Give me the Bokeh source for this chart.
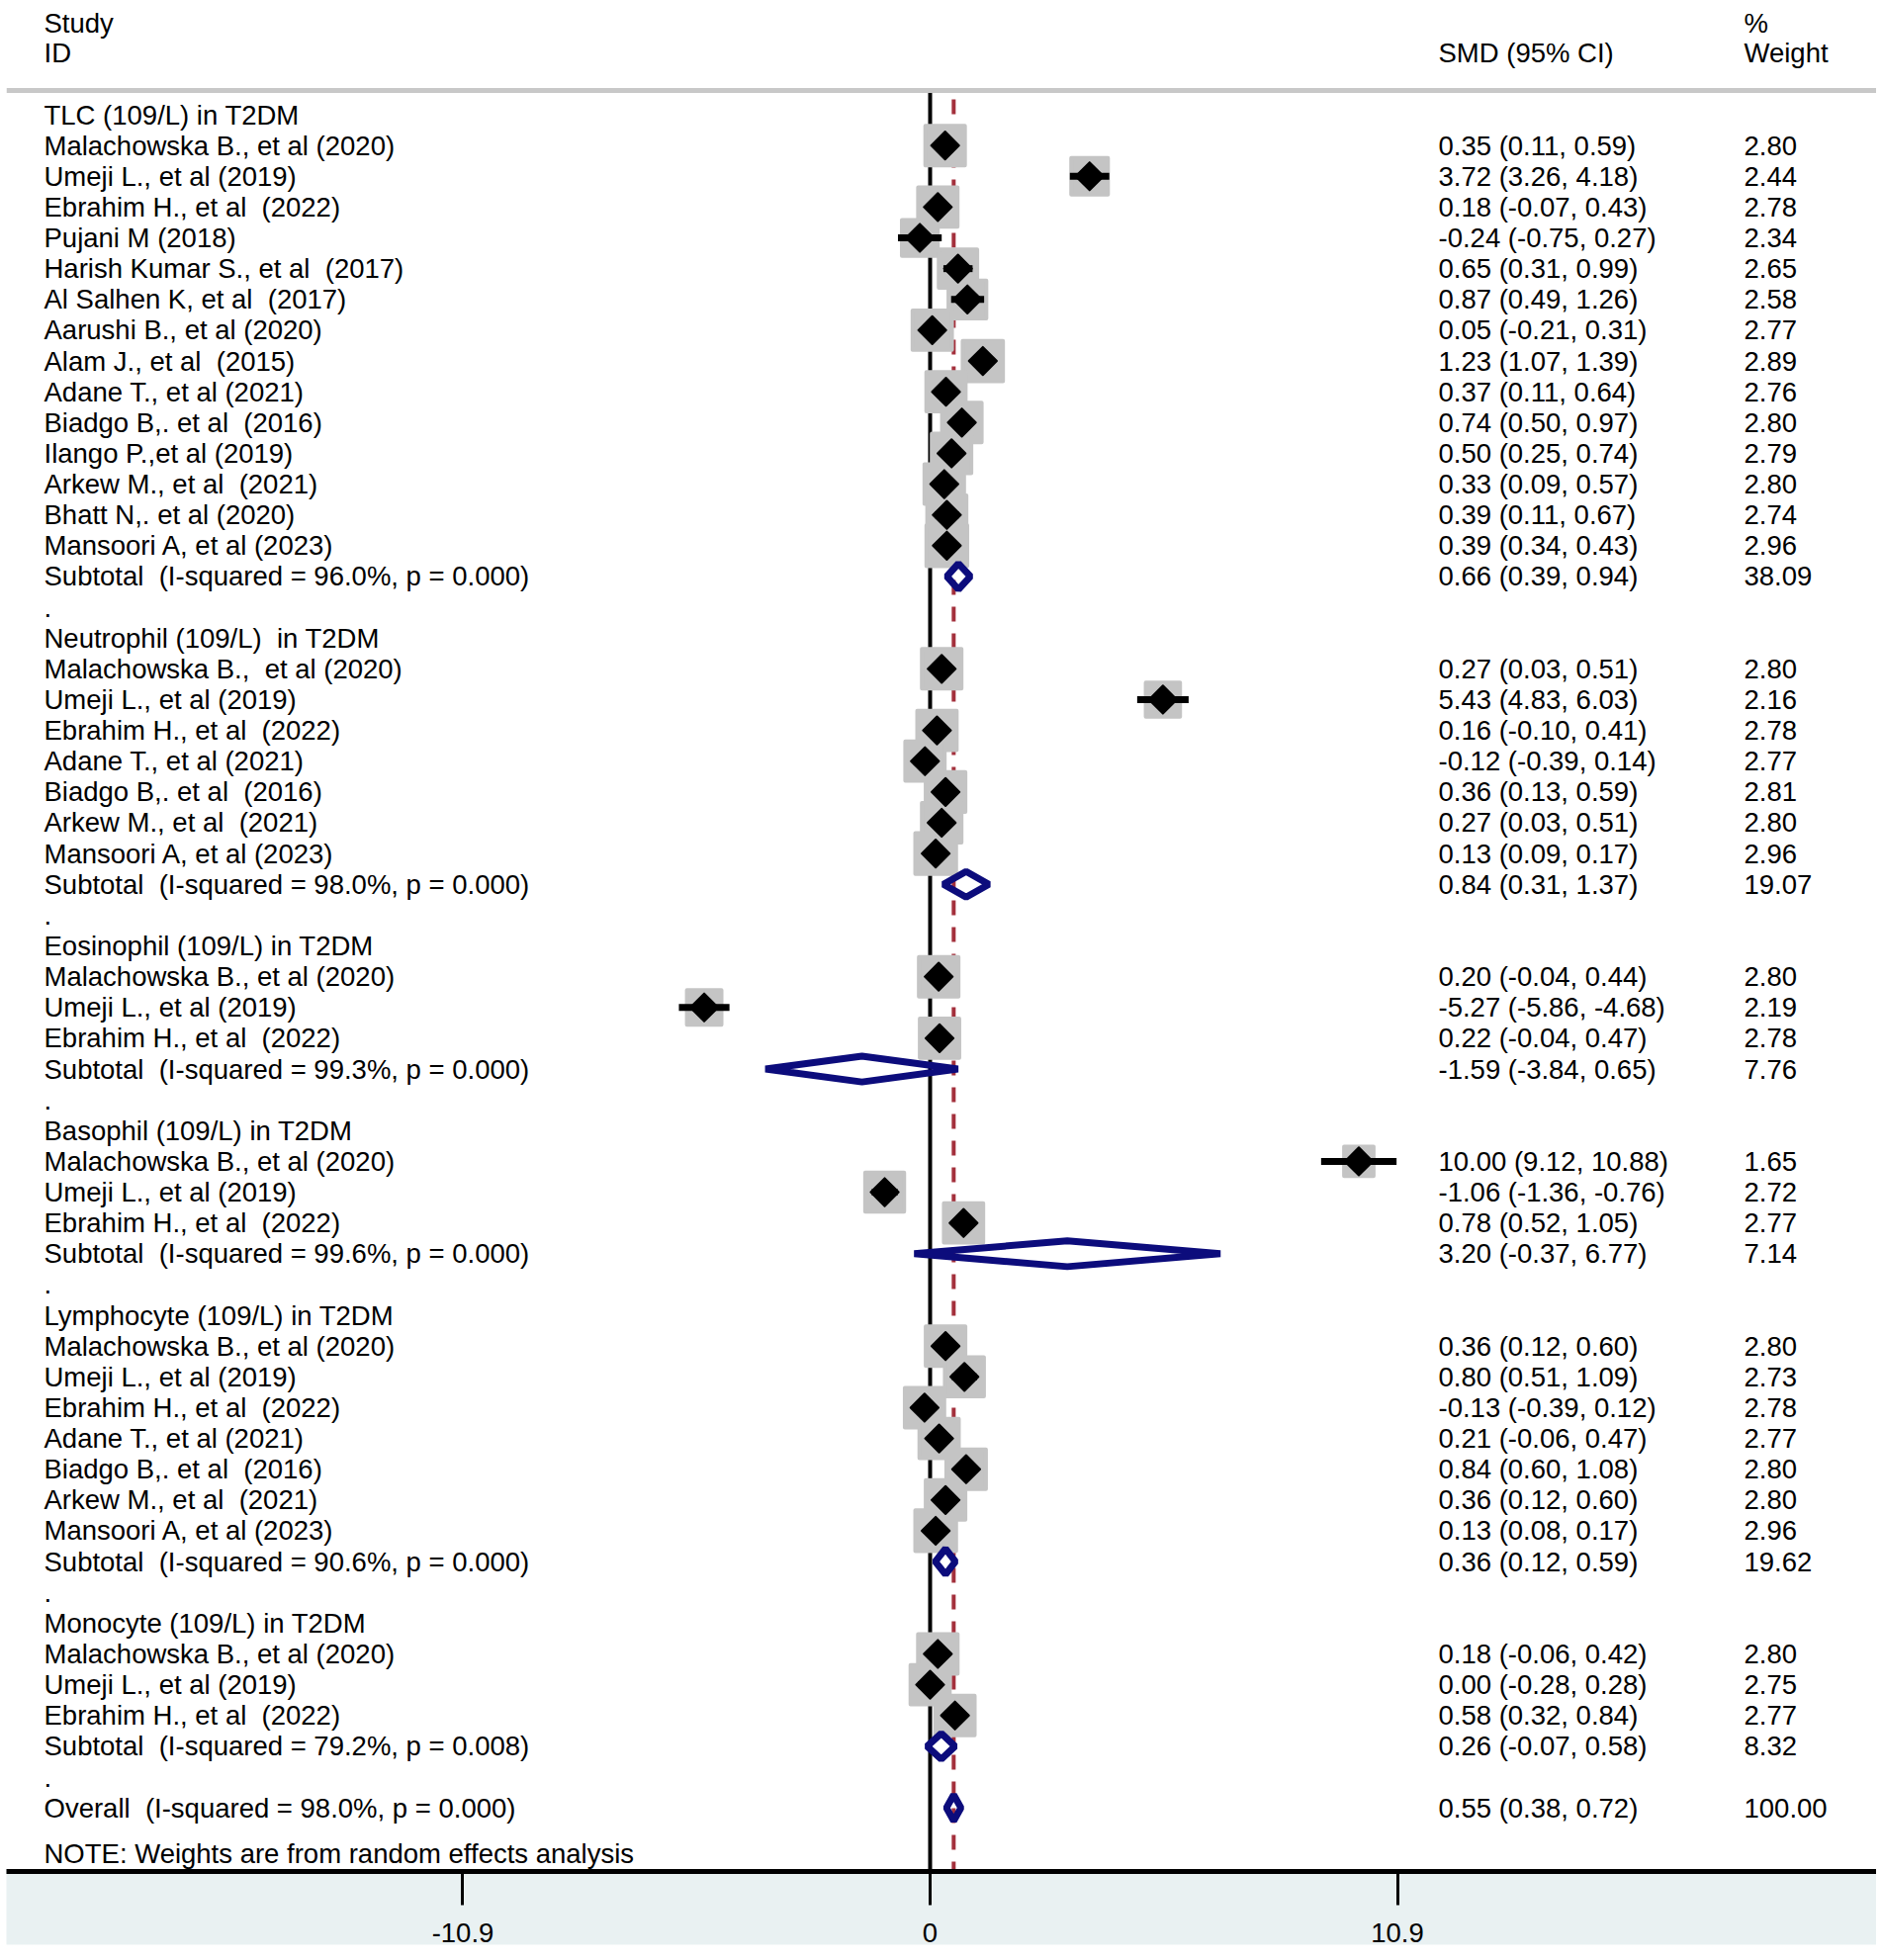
import math
from bokeh.plotting import figure
from bokeh.models import ColumnDataSource, Range1d, FixedTicker, Span, LinearAxis
from bokeh.core.properties import value
from bokeh.embed import file_html
from bokeh.resources import INLINE

# ---------------- data ----------------
group_titles = [
    "TLC (109/L) in T2DM",
    "Neutrophil (109/L)  in T2DM",
    "Eosinophil (109/L) in T2DM",
    "Basophil (109/L) in T2DM",
    "Lymphocyte (109/L) in T2DM",
    "Monocyte (109/L) in T2DM",
]

tlc_studies = ["Malachowska B., et al (2020)", "Umeji L., et al (2019)", "Ebrahim H., et al  (2022)",
               "Pujani M (2018)", "Harish Kumar S., et al  (2017)", "Al Salhen K, et al  (2017)",
               "Aarushi B., et al (2020)", "Alam J., et al  (2015)", "Adane T., et al (2021)",
               "Biadgo B,. et al  (2016)", "Ilango P.,et al (2019)", "Arkew M., et al  (2021)",
               "Bhatt N,. et al (2020)", "Mansoori A, et al (2023)"]
tlc_smd = [0.35, 3.72, 0.18, -0.24, 0.65, 0.87, 0.05, 1.23, 0.37, 0.74, 0.50, 0.33, 0.39, 0.39]
tlc_lo = [0.11, 3.26, -0.07, -0.75, 0.31, 0.49, -0.21, 1.07, 0.11, 0.50, 0.25, 0.09, 0.11, 0.34]
tlc_hi = [0.59, 4.18, 0.43, 0.27, 0.99, 1.26, 0.31, 1.39, 0.64, 0.97, 0.74, 0.57, 0.67, 0.43]
tlc_w = [2.80, 2.44, 2.78, 2.34, 2.65, 2.58, 2.77, 2.89, 2.76, 2.80, 2.79, 2.80, 2.74, 2.96]

neu_studies = ["Malachowska B.,  et al (2020)", "Umeji L., et al (2019)", "Ebrahim H., et al  (2022)",
               "Adane T., et al (2021)", "Biadgo B,. et al  (2016)", "Arkew M., et al  (2021)",
               "Mansoori A, et al (2023)"]
neu_smd = [0.27, 5.43, 0.16, -0.12, 0.36, 0.27, 0.13]
neu_lo = [0.03, 4.83, -0.10, -0.39, 0.13, 0.03, 0.09]
neu_hi = [0.51, 6.03, 0.41, 0.14, 0.59, 0.51, 0.17]
neu_w = [2.80, 2.16, 2.78, 2.77, 2.81, 2.80, 2.96]

eos_studies = ["Malachowska B., et al (2020)", "Umeji L., et al (2019)", "Ebrahim H., et al  (2022)"]
eos_smd = [0.20, -5.27, 0.22]
eos_lo = [-0.04, -5.86, -0.04]
eos_hi = [0.44, -4.68, 0.47]
eos_w = [2.80, 2.19, 2.78]

bas_studies = ["Malachowska B., et al (2020)", "Umeji L., et al (2019)", "Ebrahim H., et al  (2022)"]
bas_smd = [10.00, -1.06, 0.78]
bas_lo = [9.12, -1.36, 0.52]
bas_hi = [10.88, -0.76, 1.05]
bas_w = [1.65, 2.72, 2.77]

lym_studies = ["Malachowska B., et al (2020)", "Umeji L., et al (2019)", "Ebrahim H., et al  (2022)",
               "Adane T., et al (2021)", "Biadgo B,. et al  (2016)", "Arkew M., et al  (2021)",
               "Mansoori A, et al (2023)"]
lym_smd = [0.36, 0.80, -0.13, 0.21, 0.84, 0.36, 0.13]
lym_lo = [0.12, 0.51, -0.39, -0.06, 0.60, 0.12, 0.08]
lym_hi = [0.60, 1.09, 0.12, 0.47, 1.08, 0.60, 0.17]
lym_w = [2.80, 2.73, 2.78, 2.77, 2.80, 2.80, 2.96]

mon_studies = ["Malachowska B., et al (2020)", "Umeji L., et al (2019)", "Ebrahim H., et al  (2022)"]
mon_smd = [0.18, 0.00, 0.58]
mon_lo = [-0.06, -0.28, 0.32]
mon_hi = [0.42, 0.28, 0.84]
mon_w = [2.80, 2.75, 2.77]

sub_smd = [0.66, 0.84, -1.59, 3.20, 0.36, 0.26]
sub_lo = [0.39, 0.31, -3.84, -0.37, 0.12, -0.07]
sub_hi = [0.94, 1.37, 0.65, 6.77, 0.59, 0.58]
sub_w = [38.09, 19.07, 7.76, 7.14, 19.62, 8.32]
sub_i2 = [96.0, 98.0, 99.3, 99.6, 90.6, 79.2]
sub_p = [0.000, 0.000, 0.000, 0.000, 0.000, 0.008]

overall_smd, overall_lo, overall_hi, overall_w = 0.55, 0.38, 0.72, 100.00
overall_i2, overall_p = 98.0, 0.000

tick_values = [-10.9, 0, 10.9]
tick_labels = ["-10.9", "0", "10.9"]

groups = [
    (tlc_studies, tlc_smd, tlc_lo, tlc_hi, tlc_w),
    (neu_studies, neu_smd, neu_lo, neu_hi, neu_w),
    (eos_studies, eos_smd, eos_lo, eos_hi, eos_w),
    (bas_studies, bas_smd, bas_lo, bas_hi, bas_w),
    (lym_studies, lym_smd, lym_lo, lym_hi, lym_w),
    (mon_studies, mon_smd, mon_lo, mon_hi, mon_w),
]

# ---------------- layout constants (page pixels) ----------------
PX0 = 940.0     # page x of SMD = 0
PXU = 43.35     # page px per SMD unit
ROW0 = 115.5    # page y of first row
ROWH = 31.13    # row height
FIG_W, FIG_H = 1897, 1977
LEFT = 6        # left white border
AXIS_Y = 1892   # page y of the axis line
FONT = "Liberation Sans"
FS = "27.5px"
SHADE = "#e9f1f2"


def xd(px):
    return (px - PX0) / PXU


def yd(py):
    return (py - ROW0) / ROWH


def keep_spaces(s):
    return s.replace("  ", " \u00a0")


X_LABEL = xd(44)
X_SMD = xd(1454)
X_W = xd(1763)

# ---------------- build rows ----------------
txt_x, txt_y, txt = [], [], []
st_y, st_smd, st_lo, st_hi, st_size = [], [], [], [], []
dia_xs, dia_ys = [], []
HALF_H = 0.42


def add_text(x, y, s):
    txt_x.append(x)
    txt_y.append(y)
    txt.append(keep_spaces(s))


def fmt_ci(e, l, h):
    return f"{e:.2f} ({l:.2f}, {h:.2f})"


row = 0
for gi, (names, es, los, his, ws) in enumerate(groups):
    add_text(X_LABEL, row, group_titles[gi])
    row += 1
    for n, e, l, h, w in zip(names, es, los, his, ws):
        add_text(X_LABEL, row, n)
        add_text(X_SMD, row, fmt_ci(e, l, h))
        add_text(X_W, row, f"{w:.2f}")
        st_y.append(row)
        st_smd.append(e)
        st_lo.append(l)
        st_hi.append(h)
        st_size.append(26.3 * math.sqrt(w) - 4)
        row += 1
    add_text(X_LABEL, row, f"Subtotal  (I-squared = {sub_i2[gi]:.1f}%, p = {sub_p[gi]:.3f})")
    add_text(X_SMD, row, fmt_ci(sub_smd[gi], sub_lo[gi], sub_hi[gi]))
    add_text(X_W, row, f"{sub_w[gi]:.2f}")
    dia_xs.append([sub_lo[gi], sub_smd[gi], sub_hi[gi], sub_smd[gi]])
    dia_ys.append([row, row - HALF_H, row, row + HALF_H])
    row += 1
    add_text(X_LABEL, row, ".")
    row += 1

add_text(X_LABEL, row, f"Overall  (I-squared = {overall_i2:.1f}%, p = {overall_p:.3f})")
add_text(X_SMD, row, fmt_ci(overall_smd, overall_lo, overall_hi))
add_text(X_W, row, f"{overall_w:.2f}")
dia_xs.append([overall_lo, overall_smd, overall_hi, overall_smd])
dia_ys.append([row, row - HALF_H, row, row + HALF_H])
note_row = row + 1.5

# ---------------- figure ----------------
p = figure(width=FIG_W, height=FIG_H,
           x_range=Range1d(xd(LEFT), xd(FIG_W)),
           y_range=Range1d(yd(AXIS_Y), yd(0)),
           output_backend="svg", toolbar_location=None,
           y_axis_location=None,
           min_border_left=LEFT, min_border_right=0, min_border_top=0,
           min_border_bottom=FIG_H - AXIS_Y)
p.xgrid.visible = False
p.ygrid.visible = False
p.outline_line_color = None
p.background_fill_color = "white"
p.border_fill_color = "white"

ax = p.xaxis[0]
ax.background_fill_color = SHADE
ax.ticker = FixedTicker(ticks=tick_values)
ax.major_label_overrides = {v: s for v, s in zip(tick_values, tick_labels)}
ax.minor_tick_line_color = None
ax.axis_line_width = 5
ax.axis_line_color = "black"
ax.major_tick_line_width = 3
ax.major_tick_line_color = "black"
ax.major_tick_in = 0
ax.major_tick_out = 34
ax.major_label_standoff = 18
ax.major_label_text_font = FONT
ax.major_label_text_font_size = FS
ax.major_label_text_color = "black"

# thin blank axis below the real one, only to extend the shaded band
pad = LinearAxis(ticker=FixedTicker(ticks=[]), axis_line_color=None,
                 major_tick_line_color=None, minor_tick_line_color=None,
                 major_tick_in=0, major_tick_out=7, major_label_standoff=0,
                 major_label_text_font_size="1px", background_fill_color=SHADE)
p.add_layout(pad, "below")

# header
p.add_layout(Span(location=yd(91), dimension="width", line_color="#c8c8c8", line_width=5))
p.text(x=[X_LABEL, X_LABEL, X_SMD, X_W, X_W], y=[yd(23), yd(53), yd(53), yd(23), yd(53)],
       text=["Study", "ID", "SMD (95% CI)", "%", "Weight"],
       text_font=value(FONT), text_font_size=FS, text_baseline="middle", text_color="black")

# reference lines
p.segment(x0=[0], y0=[yd(91)], x1=[0], y1=[yd(AXIS_Y)], line_color="black", line_width=4)
p.segment(x0=[overall_smd], y0=[yd(100)], x1=[overall_smd], y1=[yd(AXIS_Y)],
          line_color="#a3303c", line_width=4, line_dash="15 12")

src = ColumnDataSource(dict(y=st_y, smd=st_smd, lo=st_lo, hi=st_hi, size=st_size))
p.scatter(x="smd", y="y", size="size", marker="square", source=src,
          fill_color="#c4c4c4", line_color="#c4c4c4", line_width=4, line_join="round")
p.segment(x0="lo", y0="y", x1="hi", y1="y", source=src, line_color="black", line_width=7)
p.scatter(x="smd", y="y", size=20, marker="square", angle=math.pi / 4, source=src,
          fill_color="black", line_color="black", line_width=2, line_join="round")

p.patches(xs=dia_xs, ys=dia_ys, fill_color=None, line_color="#0c0c7c", line_width=7,
          line_join="bevel")

p.text(x=txt_x, y=txt_y, text=txt, text_font=value(FONT), text_font_size=FS,
       text_baseline="middle", text_color="black")
p.text(x=[X_LABEL], y=[note_row], text=["NOTE: Weights are from random effects analysis"],
       text_font=value(FONT), text_font_size=FS, text_baseline="middle", text_color="black")

open("out.html", "w").write(file_html(p, INLINE))
